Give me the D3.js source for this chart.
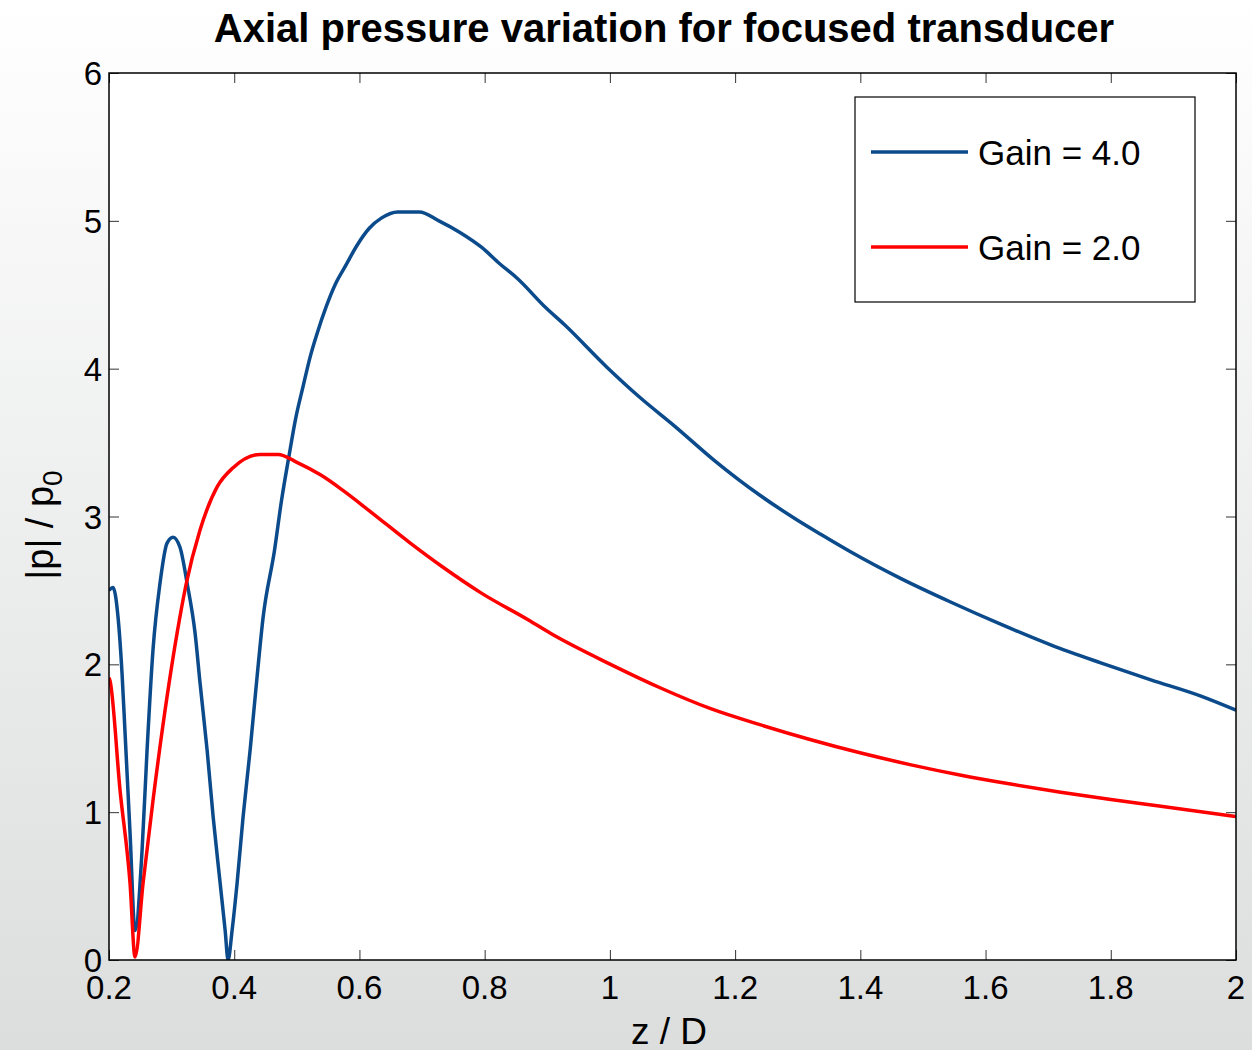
<!DOCTYPE html>
<html>
<head>
<meta charset="utf-8">
<script src="https://cdn.jsdelivr.net/npm/d3@7"></script>
<style>
  body { margin: 0; }
  svg { display: block; font-family: "Liberation Sans", Arial, sans-serif; }
</style>
</head>
<body>
<svg id="canvas" width="1252" height="1050"></svg>
<script>
// z / D positions and |p|/p0 readings, gain 4.0
let blueZ = [0.200, 0.2064, 0.2144, 0.2208, 0.2256, 0.2336, 0.2416, 0.2528, 0.2608, 0.2703, 0.2815, 0.2927, 0.3023, 0.3135, 0.3247, 0.3375, 0.3455, 0.3567, 0.3663, 0.3775, 0.3855, 0.3902, 0.3966, 0.4046, 0.4142, 0.4254, 0.4366, 0.4462, 0.4643, 0.4756, 0.4871, 0.4985, 0.5100, 0.5213, 0.5325, 0.5469, 0.5613, 0.5784, 0.5955, 0.6157, 0.6355, 0.6612, 0.6956, 0.7269, 0.7612, 0.7954, 0.8240, 0.8523, 0.8982, 0.9268, 0.9952, 1.0467, 1.1038, 1.1666, 1.2408, 1.2978, 1.3367, 1.385, 1.465, 1.545, 1.625, 1.705, 1.784, 1.864, 1.944, 2.0]
let blueP = [2.50, 2.52, 2.32, 1.94, 1.54, 0.86, 0.20, 0.74, 1.42, 2.10, 2.55, 2.82, 2.86, 2.79, 2.55, 2.21, 1.87, 1.42, 0.97, 0.52, 0.20, 0.0, 0.20, 0.52, 0.97, 1.42, 1.92, 2.32, 2.77, 3.11, 3.40, 3.67, 3.88, 4.08, 4.24, 4.42, 4.57, 4.70, 4.83, 4.95, 5.02, 5.06, 5.06, 5.00, 4.92, 4.82, 4.71, 4.61, 4.41, 4.30, 4.01, 3.81, 3.61, 3.38, 3.14, 2.98, 2.88, 2.76, 2.58, 2.42, 2.27, 2.13, 2.01, 1.895, 1.785, 1.69]

// gain 2.0
let redZ = [0.200, 0.2016, 0.2176, 0.2336, 0.2416, 0.2544, 0.2703, 0.2927, 0.3087, 0.3231, 0.3455, 0.3727, 0.3982, 0.4414, 0.4702, 0.4985, 0.5384, 0.5725, 0.6184, 0.6812, 0.7324, 0.7954, 0.8699, 0.905, 1.001, 1.081, 1.161, 1.241, 1.321, 1.401, 1.481, 1.561, 1.640, 1.720, 1.800, 1.880, 2.0]
let redP = [1.91, 1.89, 1.15, 0.52, 0.02, 0.52, 1.08, 1.78, 2.21, 2.54, 2.91, 3.20, 3.33, 3.42, 3.42, 3.37, 3.28, 3.18, 3.03, 2.82, 2.66, 2.48, 2.30, 2.21, 2.00, 1.84, 1.70, 1.59, 1.49, 1.40, 1.32, 1.25, 1.19, 1.135, 1.085, 1.04, 0.97]

let xTicks = [0.2, 0.4, 0.6, 0.8, 1, 1.2, 1.4, 1.6, 1.8, 2]
let yTicks = [0, 1, 2, 3, 4, 5, 6]
let seriesNames = ["Gain = 4.0", "Gain = 2.0"]
let seriesColors = ["#0b4a8b", "#ff0000"]

let canvas = d3.select("#canvas")

let plotLeft = 109, plotRight = 1236, plotTop = 73, plotBottom = 960

let xScale = d3.scaleLinear().domain([0.2, 2]).range([plotLeft, plotRight])
let yScale = d3.scaleLinear().domain([0, 6]).range([plotBottom, plotTop])

// slide background
let defs = canvas.append("defs")
let grad = defs.append("linearGradient")
    .attr("id", "bg")
    .attr("x1", 0).attr("y1", 0).attr("x2", 0).attr("y2", 1)
grad.append("stop").attr("offset", "0%").attr("stop-color", "#ffffff")
grad.append("stop").attr("offset", "100%").attr("stop-color", "#dcdddd")

canvas.append("rect")
    .attr("width", 1252).attr("height", 1050)
    .attr("fill", "url(#bg)")

canvas.append("rect")
    .attr("x", plotLeft).attr("y", plotTop)
    .attr("width", plotRight - plotLeft).attr("height", plotBottom - plotTop)
    .attr("fill", "#ffffff")

// inward ticks on all four sides
let tickLen = 10
let tickColor = "#333"
canvas.append("g")
    .attr("transform", "translate(0," + plotBottom + ")")
    .call(d3.axisTop(xScale).tickValues(xTicks).tickSize(tickLen).tickFormat(""))
    .call(g => g.select(".domain").remove())
    .selectAll("line").attr("stroke", tickColor)
canvas.append("g")
    .attr("transform", "translate(0," + plotTop + ")")
    .call(d3.axisBottom(xScale).tickValues(xTicks).tickSize(tickLen).tickFormat(""))
    .call(g => g.select(".domain").remove())
    .selectAll("line").attr("stroke", tickColor)
canvas.append("g")
    .attr("transform", "translate(" + plotLeft + ",0)")
    .call(d3.axisRight(yScale).tickValues(yTicks).tickSize(tickLen).tickFormat(""))
    .call(g => g.select(".domain").remove())
    .selectAll("line").attr("stroke", tickColor)
canvas.append("g")
    .attr("transform", "translate(" + plotRight + ",0)")
    .call(d3.axisLeft(yScale).tickValues(yTicks).tickSize(tickLen).tickFormat(""))
    .call(g => g.select(".domain").remove())
    .selectAll("line").attr("stroke", tickColor)

// curves
let line = d3.line()
    .x(d => xScale(d[0]))
    .y(d => yScale(d[1]))
    .curve(d3.curveMonotoneX)

let clip = defs.append("clipPath").attr("id", "plotclip")
clip.append("rect")
    .attr("x", plotLeft).attr("y", plotTop - 5)
    .attr("width", plotRight - plotLeft).attr("height", plotBottom - plotTop + 5)

let series = [
    d3.zip(blueZ, blueP),
    d3.zip(redZ, redP)
]

canvas.append("g")
    .attr("clip-path", "url(#plotclip)")
    .selectAll("path")
    .data(series)
    .enter()
    .append("path")
    .attr("d", d => line(d))
    .attr("fill", "none")
    .attr("stroke", (d, i) => seriesColors[i])
    .attr("stroke-width", 3.5)
    .attr("stroke-linejoin", "round")

// frame
canvas.append("rect")
    .attr("x", plotLeft).attr("y", plotTop)
    .attr("width", plotRight - plotLeft).attr("height", plotBottom - plotTop)
    .attr("fill", "none")
    .attr("stroke", "#000")
    .attr("stroke-width", 1.5)

// tick labels
canvas.append("g")
    .selectAll("text")
    .data(xTicks)
    .enter()
    .append("text")
    .attr("x", d => xScale(d))
    .attr("y", 999)
    .attr("text-anchor", "middle")
    .attr("font-size", "33px")
    .text(d => d)

canvas.append("g")
    .selectAll("text")
    .data(yTicks)
    .enter()
    .append("text")
    .attr("x", 102)
    .attr("y", d => yScale(d) + 12)
    .attr("text-anchor", "end")
    .attr("font-size", "33px")
    .text(d => d)

// titles
canvas.append("text")
    .attr("x", 664)
    .attr("y", 42)
    .attr("text-anchor", "middle")
    .attr("font-size", "40px")
    .attr("font-weight", "bold")
    .text("Axial pressure variation for focused transducer")

canvas.append("text")
    .attr("x", 669)
    .attr("y", 1044)
    .attr("text-anchor", "middle")
    .attr("font-size", "37px")
    .text("z / D")

let yLabel = canvas.append("text")
    .attr("transform", "translate(53,525) rotate(-90)")
    .attr("text-anchor", "middle")
    .attr("font-size", "38px")
yLabel.append("tspan").text("|p| / p")
yLabel.append("tspan").attr("dy", 9).attr("font-size", "28px").text("0")

// legend
let legend = canvas.append("g")
legend.append("rect")
    .attr("x", 855).attr("y", 97)
    .attr("width", 340).attr("height", 205)
    .attr("fill", "#ffffff")
    .attr("stroke", "#000")
    .attr("stroke-width", 1.2)

let entry = legend.selectAll(".entry")
    .data(seriesNames)
    .enter()
    .append("g")
    .attr("class", "entry")
    .attr("transform", (d, i) => "translate(0," + (152 + i * 95) + ")")
entry.append("line")
    .attr("x1", 871).attr("x2", 968)
    .attr("stroke", (d, i) => seriesColors[i])
    .attr("stroke-width", 3.5)
entry.append("text")
    .attr("x", 978)
    .attr("y", 13)
    .attr("font-size", "35px")
    .text(d => d)
</script>
</body>
</html>
